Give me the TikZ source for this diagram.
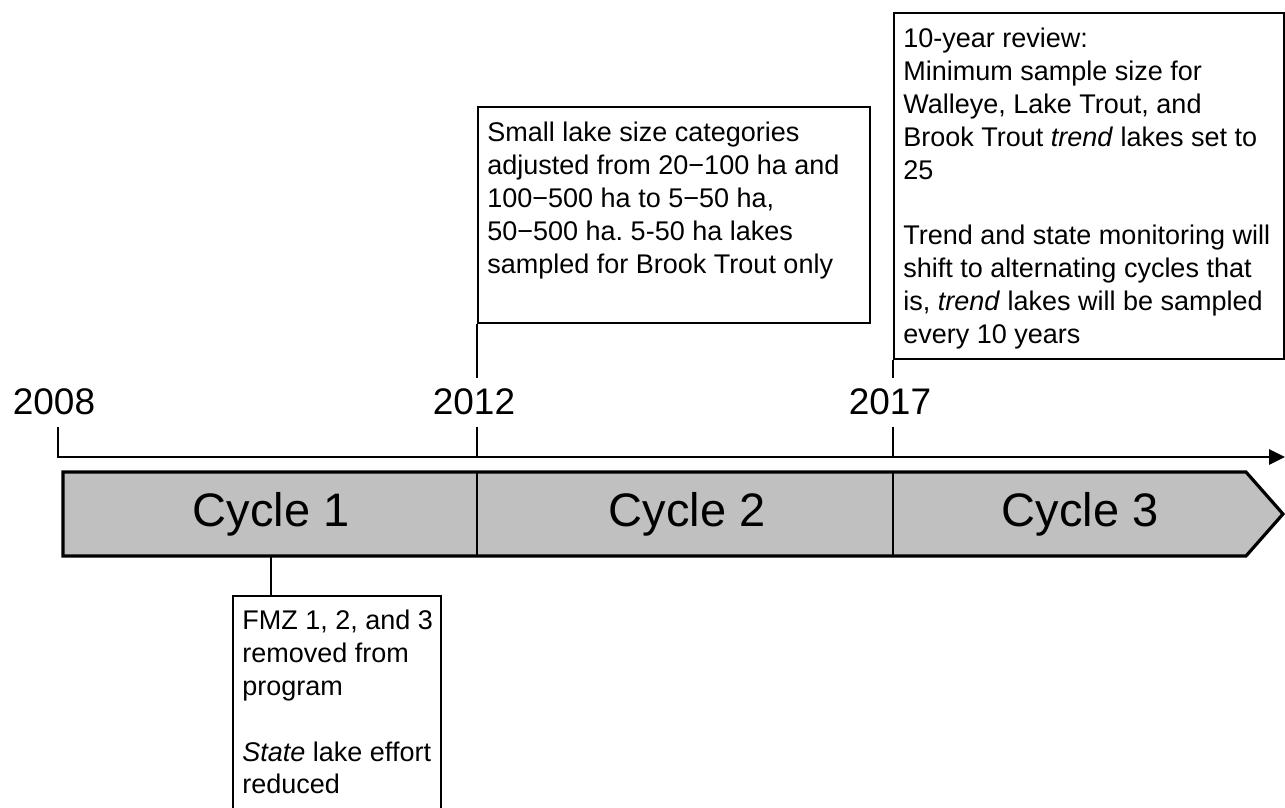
\documentclass[tikz,border=0pt]{standalone}
\usepackage{fontspec}
\setmainfont{Liberation Sans}
\frenchspacing
\usetikzlibrary{arrows.meta, positioning}
\definecolor{bandgray}{HTML}{C0C0C0}

\begin{document}
\begin{tikzpicture}[
  x=0.5pt, y=-0.5pt,
  notebox/.style={rectangle, draw=black, line width=1pt, fill=white,
                  anchor=north west, inner sep=0pt},
  notetext/.style={anchor=north west, align=left,
                   inner xsep=5pt, inner ysep=8pt,
                   font=\fontsize{13.5}{16.4}\selectfont},
  year/.style={font=\fontsize{18.5}{22}\selectfont,
               inner xsep=0pt, inner ysep=5.5pt},
  cycle/.style={font=\fontsize{23.5}{28}\selectfont,
                minimum height=42pt, inner sep=0pt},
  tick/.style={line width=1.4pt},
  band/.style={draw=black, fill=bandgray, line width=1.6pt}
]
  \useasboundingbox (0,0) rectangle (1285,808);

  % note boxes
  \node[notebox, minimum width=196pt, minimum height=108pt] (box12) at (477,106) {};
  \node[notetext] (txt12) at (box12.north west)
    {Small lake size categories\\
     adjusted from 20−100 ha and\\
     100−500 ha to 5−50 ha,\\
     50−500 ha. 5-50 ha lakes\\
     sampled for Brook Trout only};

  \node[notebox, minimum width=195pt, minimum height=173pt] (box17) at (893,12) {};
  \node[notetext] (txt17) at (box17.north west)
    {10-year review:\\
     Minimum sample size for\\
     Walleye, Lake Trout, and\\
     Brook Trout \textit{trend} lakes set to\\
     25\\[16.4pt]
     Trend and state monitoring will\\
     shift to alternating cycles that\\
     is, \textit{trend} lakes will be sampled\\
     every 10 years};

  \node[notebox, minimum width=104pt, minimum height=110pt] (box09) at (232,595) {};
  \node[notetext, inner ysep=7.5pt] (txt09) at (box09.north west)
    {FMZ 1, 2, and 3\\
     removed from\\
     program\\[16.4pt]
     \textit{State} lake effort\\
     reduced};

  % years and time axis
  \node[year] (y08) at (54,402) {2008};
  \node[year] (y12) at (474,402) {2012};
  \node[year] (y17) at (890,402) {2017};

  \coordinate (t08) at (58,457);
  \coordinate (t12) at (477,457);
  \coordinate (t17) at (893,457);
  \coordinate (tend) at (1285,457);

  \draw[tick, -{Triangle[length=8pt, width=7.5pt]}]
    (y08.south -| t08) -- (t08) -- (tend);
  \draw[tick] (box12.south west) -- (box12.south west |- y12.north);
  \draw[tick] (y12.south -| t12) -- (t12);
  \draw[tick] (box17.south west) -- (box17.south west |- y17.north);
  \draw[tick] (y17.south -| t17) -- (t17);

  % cycle band
  \draw[band] (63,472) -- (1246,472) -- (1283,514) -- (1246,556)
    -- (63,556) -- cycle;
  \draw[line width=1.2pt] (477,472) -- (477,556);
  \draw[line width=1.2pt] (893,472) -- (893,556);

  \node[cycle] (c1) at (271,514) {Cycle 1};
  \node[cycle] (c2) at (687,514) {Cycle 2};
  \node[cycle] (c3) at (1080,514) {Cycle 3};

  \draw[tick] (c1.south) -- (c1.south |- box09.north);
\end{tikzpicture}
\end{document}
